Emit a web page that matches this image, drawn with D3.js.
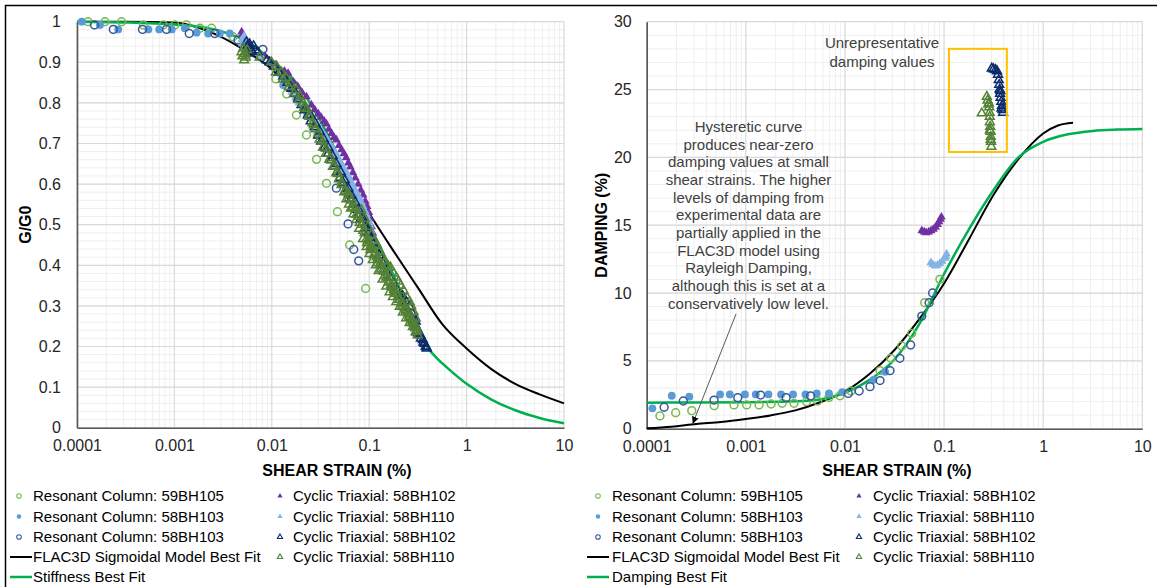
<!DOCTYPE html>
<html><head><meta charset="utf-8">
<script src="https://cdn.jsdelivr.net/npm/d3@7"></script>
<style>body{margin:0;background:#fff;} svg{font-family:"Liberation Sans",Arial,sans-serif;}</style>
</head><body><svg id="c" width="1157" height="587"></svg>
<script>
// ---------------- DATA ----------------
const xTickLabels = ["0.0001","0.001","0.01","0.1","1","10"];
const xTickValues = [1e-4,1e-3,1e-2,1e-1,1,10];
const gTickValues = [0,0.1,0.2,0.3,0.4,0.5,0.6,0.7,0.8,0.9,1];
const gTickLabels = ["0","0.1","0.2","0.3","0.4","0.5","0.6","0.7","0.8","0.9","1"];
const dTickValues = [0,5,10,15,20,25,30];
const dTickLabels = ["0","5","10","15","20","25","30"];

const legendNames = ["Resonant Column: 59BH105","Resonant Column: 58BH103","Resonant Column: 58BH103",
  "FLAC3D Sigmoidal Model Best Fit","Cyclic Triaxial: 58BH102","Cyclic Triaxial: 58BH110",
  "Cyclic Triaxial: 58BH102","Cyclic Triaxial: 58BH110"];
const leftFitName = "Stiffness Best Fit";
const rightFitName = "Damping Best Fit";

// ---- G/G0 panel ----
const flacG = [[1e-4,1.0],[3.16e-4,1.0],[1e-3,0.998],[1.78e-3,0.985],[3.16e-3,0.96],[5.62e-3,0.925],[0.01,0.883],[0.0178,0.818],[0.0316,0.735],[0.0562,0.63],[0.1,0.528],[0.178,0.435],[0.316,0.345],[0.562,0.255],[1,0.195],[1.78,0.145],[3.16,0.108],[5.62,0.082],[10,0.060]];
const fitG = [[1e-4,1.0],[3.16e-4,0.998],[1e-3,0.993],[1.78e-3,0.988],[3.16e-3,0.975],[5.62e-3,0.95],[0.01,0.905],[0.0178,0.85],[0.0316,0.755],[0.0562,0.635],[0.1,0.50],[0.133,0.44],[0.178,0.375],[0.237,0.31],[0.316,0.245],[0.40,0.197],[0.50,0.17],[0.63,0.148],[1,0.108],[1.78,0.07],[3.16,0.043],[5.62,0.024],[10,0.011]];

const rc59G = [[1.3e-4,1.0],[1.94e-4,1.0],[2.87e-4,1.0],[4.8e-4,0.992],[7.7e-4,0.992],[1.01e-3,0.992],[1.33e-3,0.992],[1.83e-3,0.984],[2.41e-3,0.984],[4.0e-3,0.963],[0.011,0.859],[0.0142,0.822],[0.0179,0.770],[0.0227,0.721],[0.0288,0.661],[0.0364,0.602],[0.0472,0.532],[0.063,0.450],[0.092,0.343]];
const rc58fG = [[1.12e-4,1.0],[1.72e-4,0.992],[2.65e-4,0.981],[5.4e-4,0.981],[6.98e-4,0.981],[9.4e-4,0.981],[1.28e-3,0.984],[1.69e-3,0.973],[2.22e-3,0.971],[2.93e-3,0.971],[3.7e-3,0.971],[0.0131,0.844]];
const rc58oG = [[1.51e-4,0.992],[2.36e-4,0.981],[4.7e-4,0.981],[8.3e-4,0.981],[1.42e-3,0.971],[2.6e-3,0.971],[4.5e-3,0.955],[8.1e-3,0.932],[0.046,0.590],[0.0607,0.502],[0.0694,0.439],[0.078,0.411]];
const ct102fG = [[0.0049,0.975],[0.0050,0.968],[0.0051,0.96],[0.0053,0.955],[0.0056,0.945],[0.0085,0.915],[0.011,0.893],[0.0135,0.878],[0.0147,0.873],[0.0165,0.852],[0.0185,0.84],[0.0205,0.825],[0.0227,0.815],[0.0255,0.795],[0.0276,0.783],[0.030,0.773],[0.032,0.765],[0.0345,0.755],[0.0364,0.748],[0.0385,0.735],[0.041,0.725],[0.0435,0.715],[0.046,0.709],[0.049,0.695],[0.052,0.685],[0.055,0.675],[0.058,0.665],[0.061,0.652],[0.064,0.642],[0.068,0.628],[0.072,0.615],[0.077,0.60],[0.082,0.585],[0.0866,0.573],[0.091,0.558],[0.095,0.545],[0.099,0.53],[0.102,0.515],[0.106,0.495],[0.109,0.479]];
const ct110fG = [[0.0049,0.955],[0.0050,0.945],[0.0051,0.935],[0.0052,0.965],[0.0053,0.925],[0.0054,0.95],[0.0055,0.915],[0.0056,0.94],[0.0058,0.93],
  [0.0078,0.915],[0.0095,0.9],[0.011,0.885],[0.0125,0.87],[0.014,0.857],[0.015,0.845],[0.016,0.838],[0.017,0.83],[0.018,0.82],[0.019,0.81],[0.020,0.80],[0.021,0.795],[0.022,0.79],[0.0235,0.78],[0.025,0.77],[0.0265,0.76],[0.028,0.752],[0.0295,0.745],[0.031,0.737],[0.033,0.728],[0.035,0.72],[0.037,0.71],[0.039,0.70],[0.041,0.692],[0.043,0.685],[0.0455,0.675],[0.048,0.665],[0.0505,0.655],[0.053,0.645],[0.0555,0.637],[0.058,0.63],[0.061,0.62],[0.064,0.61],[0.067,0.60],[0.070,0.59],[0.073,0.582],[0.076,0.575],[0.0795,0.565],[0.083,0.555],[0.0865,0.545],[0.090,0.535],[0.0935,0.525],[0.097,0.515],[0.10,0.505],[0.103,0.497],
  [0.013,0.865],[0.0145,0.845],[0.016,0.827],[0.0175,0.813],[0.019,0.80],[0.021,0.787],[0.023,0.775],[0.025,0.76],[0.027,0.745],[0.0295,0.73],[0.032,0.715],[0.0345,0.705],[0.037,0.695],[0.040,0.682],[0.043,0.67],[0.046,0.658],[0.049,0.645],[0.0525,0.632],[0.056,0.62],[0.0595,0.608],[0.063,0.595],[0.067,0.585],[0.071,0.575],[0.075,0.563],[0.079,0.55],[0.0835,0.537],[0.088,0.525],[0.092,0.515],[0.096,0.505],[0.10,0.495],[0.104,0.485],[0.108,0.475]];
const ct102oG = [[0.0055,0.95],[0.0056,0.94],[0.0057,0.93],[0.0058,0.922],[0.0059,0.945],[0.006,0.935],[0.0062,0.928],[0.0065,0.94],[0.0068,0.93],[0.0072,0.925],
  [0.0089,0.905],[0.0105,0.89],[0.0118,0.875],[0.0131,0.865],[0.0145,0.85],[0.0159,0.835],[0.0172,0.822],[0.0186,0.81],[0.0202,0.795],[0.0218,0.782],[0.0234,0.77],[0.0251,0.755],[0.0275,0.74],[0.0299,0.72],[0.0322,0.705],[0.0347,0.69],[0.0378,0.675],[0.0409,0.659],[0.0437,0.645],[0.0468,0.63],[0.050,0.616],[0.054,0.602],[0.058,0.588],[0.0617,0.575],[0.065,0.562],[0.0684,0.55],[0.073,0.537],[0.0776,0.525],[0.082,0.515],[0.0865,0.505],[0.092,0.492],[0.0977,0.48],[0.103,0.467],[0.109,0.455],[0.117,0.44],[0.126,0.425],[0.138,0.405],[0.150,0.385],[0.163,0.37],[0.178,0.355],[0.192,0.34],[0.206,0.325],[0.222,0.31],[0.24,0.295],[0.26,0.28],[0.281,0.265],[0.30,0.252],[0.316,0.24],[0.336,0.228],[0.356,0.216],[0.37,0.207],[0.386,0.198],
  [0.0095,0.90],[0.012,0.875],[0.014,0.858],[0.0165,0.835],[0.019,0.815],[0.022,0.79],[0.025,0.77],[0.028,0.75],[0.031,0.73],[0.034,0.712],[0.038,0.69],[0.042,0.67],[0.046,0.65],[0.051,0.63],[0.056,0.61],[0.061,0.59],[0.066,0.572],[0.072,0.555],[0.078,0.537],[0.085,0.518],[0.092,0.50],[0.1,0.48],
  [0.22,0.325],[0.24,0.31],[0.26,0.298],[0.28,0.28],[0.30,0.262],[0.305,0.235],[0.32,0.232],[0.34,0.22],[0.36,0.21],[0.38,0.20],[0.39,0.195]];
const ct110oG = [[0.0049,0.925],[0.0050,0.915],[0.0051,0.935],[0.0052,0.905],[0.0053,0.92],[0.0054,0.912],[0.0056,0.93],
  [0.0075,0.912],[0.0099,0.90],[0.0112,0.89],[0.0125,0.875],[0.014,0.862],[0.0155,0.848],[0.0179,0.832],[0.0195,0.815],[0.021,0.80],[0.0228,0.785],[0.0245,0.766],[0.0262,0.75],[0.028,0.735],[0.031,0.71],[0.0336,0.69],[0.036,0.675],[0.039,0.66],[0.0425,0.643],[0.046,0.627],[0.049,0.612],[0.052,0.598],[0.0555,0.58],[0.0585,0.563],[0.062,0.55],[0.065,0.54],[0.069,0.526],[0.074,0.512],[0.079,0.49],[0.0865,0.465],[0.094,0.445],[0.101,0.428],[0.109,0.413],[0.117,0.40],[0.125,0.386],[0.137,0.365],[0.150,0.348],[0.162,0.334],[0.175,0.322],[0.19,0.31],[0.206,0.298],[0.222,0.284],[0.24,0.27],[0.26,0.258],[0.281,0.248],[0.30,0.236],[0.315,0.228],
  [0.011,0.875],[0.013,0.858],[0.015,0.84],[0.017,0.823],[0.019,0.807],[0.0215,0.788],[0.024,0.768],[0.027,0.745],[0.030,0.725],[0.033,0.705],[0.036,0.687],[0.040,0.665],[0.044,0.645],[0.048,0.625],[0.052,0.605],[0.057,0.583],[0.062,0.565],[0.068,0.543],[0.074,0.525],[0.080,0.505],[0.087,0.485],[0.094,0.465],[0.10,0.455],[0.107,0.445],[0.115,0.43],[0.123,0.415],[0.132,0.40],[0.142,0.385],[0.155,0.368],[0.168,0.352],[0.183,0.337],[0.198,0.323],[0.215,0.308],[0.232,0.295],[0.25,0.282],[0.27,0.268],[0.29,0.255],[0.31,0.24],
  [0.095,0.455],[0.103,0.438],[0.112,0.425],[0.122,0.405],[0.133,0.39],[0.145,0.375],[0.158,0.358],[0.172,0.345],[0.187,0.33],[0.203,0.315],[0.22,0.3],[0.238,0.287],[0.258,0.272],[0.278,0.258],[0.298,0.245],[0.31,0.238],
  [0.06,0.58],[0.066,0.56],[0.072,0.54],[0.078,0.52],[0.084,0.50],[0.09,0.48],[0.097,0.462],[0.104,0.448],[0.11,0.44],[0.12,0.42],[0.13,0.405],[0.14,0.39],[0.15,0.37],[0.16,0.36],[0.17,0.35],[0.18,0.34],[0.19,0.33],[0.205,0.315],[0.22,0.305],[0.24,0.29],[0.26,0.275],[0.28,0.262],[0.30,0.25],
  [0.083,0.536],[0.09,0.515],[0.097,0.495],[0.105,0.475],[0.113,0.46],[0.12,0.45],[0.128,0.435],[0.137,0.42],[0.145,0.41],[0.155,0.40],[0.165,0.395],[0.178,0.38],[0.19,0.37],[0.20,0.36],[0.21,0.35],[0.225,0.338],[0.245,0.32],[0.26,0.31],[0.27,0.30],[0.285,0.285],[0.30,0.27]];

// ---- Damping panel ----
const flacD = [[1e-4,0.03],[1.78e-4,0.15],[3.16e-4,0.35],[5.62e-4,0.5],[1e-3,0.72],[1.78e-3,0.98],[3.16e-3,1.35],[5.62e-3,1.95],[0.01,2.75],[0.0178,4.05],[0.0316,5.8],[0.0562,8.07],[0.1,10.7],[0.178,13.95],[0.316,17.24],[0.562,19.87],[1,21.76],[1.41,22.35],[2.0,22.55]];
const fitD = [[1e-4,1.92],[3.16e-4,1.93],[1e-3,1.95],[3.16e-3,2.02],[5.62e-3,2.15],[0.01,2.65],[0.0178,3.6],[0.0316,5.1],[0.0562,7.7],[0.1,11.4],[0.178,14.7],[0.316,17.6],[0.562,20.0],[1,21.15],[1.78,21.7],[3.16,21.95],[5.62,22.05],[10,22.1]];

const rc59D = [[1.36e-4,0.94],[1.96e-4,1.18],[2.85e-4,1.33],[4.8e-4,1.70],[7.6e-4,1.75],[1.02e-3,1.75],[1.36e-3,1.75],[1.80e-3,1.82],[2.33e-3,1.87],[3.06e-3,1.87],[4.1e-3,1.99],[5.3e-3,2.04],[6.9e-3,2.31],[8.9e-3,2.43],[0.0115,2.78],[0.0226,4.28],[0.029,5.19],[0.0374,6.1],[0.0472,7.03],[0.0638,9.29],[0.0908,11.01]];
const rc58fD = [[1.14e-4,1.50],[1.79e-4,2.43],[2.69e-4,2.36],[5.5e-4,2.53],[6.9e-4,2.53],[9.8e-4,2.53],[1.26e-3,2.53],[1.69e-3,2.53],[2.27e-3,2.53],[3.0e-3,2.53],[4.0e-3,2.53],[5.2e-3,2.6],[6.9e-3,2.6],[9.4e-3,2.7],[0.0194,3.6],[0.0254,4.2]];
const rc58oD = [[1.50e-4,1.58],[2.34e-4,2.04],[4.78e-4,2.11],[8.3e-4,2.29],[1.41e-3,2.48],[2.55e-3,2.29],[4.5e-3,2.41],[0.0108,2.6],[0.0139,2.78],[0.0179,3.1],[0.0226,3.55],[0.0285,4.28],[0.0358,5.19],[0.046,6.17],[0.0596,8.3],[0.0707,9.29],[0.0766,10.0]];
const ct102fD = [[0.0596,14.6],[0.063,14.5],[0.066,14.45],[0.070,14.5],[0.074,14.6],[0.078,14.7],[0.082,14.85],[0.086,15.05],[0.089,15.25],[0.092,15.45],[0.094,15.6]];
const ct110fD = [[0.0735,12.24],[0.077,12.1],[0.0811,11.99],[0.086,12.05],[0.0908,12.19],[0.096,12.35],[0.102,12.56],[0.106,12.88],[0.104,12.7]];
const ct102oD = [[0.303,26.56],[0.315,26.5],[0.33,26.45],[0.343,26.35],[0.35,26.1],[0.356,25.7],[0.36,25.35],[0.363,25.0],[0.368,24.7],[0.372,24.4],[0.378,24.1],[0.384,23.8],[0.39,23.5],[0.394,23.3],[0.38,23.6],[0.37,24.9]];
const ct110oD = [[0.27,24.47],[0.275,24.2],[0.28,23.9],[0.286,23.7],[0.288,23.3],[0.289,23.0],[0.29,22.6],[0.292,22.26],[0.294,21.9],[0.296,21.52],[0.298,21.15],[0.30,20.79],[0.24,23.25],[0.283,24.0],[0.29,22.0],[0.295,21.3]];

// annotations (data coordinates)
const boxD = {x0:0.112, x1:0.43, y0:20.4, y1:28.0};
const arrowD = {x0:7.96e-4, y0:8.45, x1:2.93e-4, y1:0.42};
const note1 = ["Unrepresentative","damping values"];
const note2 = ["Hysteretic curve","produces near-zero","damping values at small","shear strains. The higher","levels of damping from","experimental data are","partially applied in the","FLAC3D model using","Rayleigh Damping,","although this is set at a","conservatively low level."];

// ---------------- STYLE ----------------
const C = {
  rc59:"#78b94f", rc58f:"#5b9bd5", rc58o:"#34589a",
  ct102f:"#7030a0", ct110f:"#84b4e4", ct102o:"#0d2a6b", ct110o:"#548235",
  flac:"#000000", fit:"#00b050"
};
const svg = d3.select("#c");
svg.append("rect").attr("x",5.5).attr("y",5.5).attr("width",1200).attr("height",600)
  .attr("fill","none").attr("stroke","#000").attr("stroke-width",1.5);

function panel(opt){
  const g = svg.append("g");
  const x = d3.scaleLog().domain([1e-4,10]).range([opt.x0,opt.x1]);
  const y = d3.scaleLinear().domain(opt.ydom).range([opt.y0,opt.y1]);
  const minorX = [];
  for(let k=-4;k<1;k++) for(let m=2;m<=9;m++) minorX.push(m*Math.pow(10,k));
  g.selectAll(".mx").data(minorX).join("line")
    .attr("x1",d=>x(d)).attr("x2",d=>x(d)).attr("y1",y(opt.ydom[0])).attr("y2",y(opt.ydom[1]))
    .attr("stroke","#efefef").attr("stroke-width",1);
  const minorY = d3.range(opt.ydom[0],opt.ydom[1]+1e-9,opt.minorStep);
  g.selectAll(".my").data(minorY).join("line")
    .attr("x1",x(1e-4)).attr("x2",x(10)).attr("y1",d=>y(d)).attr("y2",d=>y(d))
    .attr("stroke","#efefef").attr("stroke-width",1);
  g.selectAll(".Mx").data(xTickValues).join("line")
    .attr("x1",d=>x(d)).attr("x2",d=>x(d)).attr("y1",y(opt.ydom[0])).attr("y2",y(opt.ydom[1]))
    .attr("stroke","#d9d9d9").attr("stroke-width",1.2);
  g.selectAll(".My").data(opt.yticks).join("line")
    .attr("x1",x(1e-4)).attr("x2",x(10)).attr("y1",d=>y(d)).attr("y2",d=>y(d))
    .attr("stroke","#d9d9d9").attr("stroke-width",1.2);
  const ax = d3.axisBottom(x).tickValues(xTickValues).tickSize(0).tickPadding(12)
    .tickFormat((d,i)=>xTickLabels[i]);
  const axg = g.append("g").attr("transform",`translate(0,${y(opt.ydom[0])})`).call(ax);
  const ay = d3.axisLeft(y).tickValues(opt.yticks).tickSize(0).tickPadding(opt.ypad)
    .tickFormat((d,i)=>opt.ylabels[i]);
  const ayg = g.append("g").attr("transform",`translate(${x(1e-4)},0)`).call(ay);
  [axg,ayg].forEach(a=>{
    a.select(".domain").attr("stroke","#595959").attr("stroke-width",1.6);
    a.selectAll("text").attr("font-size",16).attr("fill","#262626").attr("font-family","Liberation Sans, Arial, sans-serif");
  });
  g.append("text").attr("x",opt.xtitleX).attr("y",476).attr("text-anchor","middle")
    .attr("font-size",16).attr("font-weight","bold").attr("fill","#000").text("SHEAR STRAIN (%)");
  g.append("text").attr("transform",`translate(${opt.ytitleX},${(opt.y0+opt.y1)/2}) rotate(-90)`)
    .attr("text-anchor","middle").attr("font-size",16).attr("font-weight","bold").attr("fill","#000").text(opt.ytitle);
  const line = d3.line().x(d=>x(d[0])).y(d=>y(d[1])).curve(d3.curveMonotoneX);
  g.append("path").datum(opt.flac).attr("d",line).attr("fill","none").attr("stroke",C.flac).attr("stroke-width",2);
  g.append("path").datum(opt.fit).attr("d",line).attr("fill","none").attr("stroke",C.fit).attr("stroke-width",2.5);
  const circ = d3.symbol().type(d3.symbolCircle).size(48);
  const tri = d3.symbol().type(d3.symbolTriangle).size(34);
  const series = [
    [opt.s[0],circ,"none",C.rc59],
    [opt.s[1],circ,C.rc58f,"none"],
    [opt.s[2],circ,"none",C.rc58o],
    [opt.s[3],tri,C.ct102f,"none"],
    [opt.s[4],tri,C.ct110f,"none"],
    [opt.s[5],tri,"none",C.ct102o],
    [opt.s[6],tri,"none",C.ct110o]
  ];
  series.forEach(([data,sym,fill,stroke])=>{
    g.append("g").selectAll("path").data(data).join("path")
      .attr("transform",d=>`translate(${x(d[0])},${y(d[1])})`)
      .attr("d",sym).attr("fill",fill).attr("stroke",stroke).attr("stroke-width",1.5);
  });
  return {x,y,g};
}

const L = panel({x0:77,x1:564,y0:427.7,y1:21.7,ydom:[0,1],yticks:gTickValues,ylabels:gTickLabels,
  minorStep:0.02,ypad:16,ytitle:"G/G0",ytitleX:31,xtitleX:337,flac:flacG,fit:fitG,
  s:[rc59G,rc58fG,rc58oG,ct102fG,ct110fG,ct102oG,ct110oG]});
const R = panel({x0:646.7,x1:1142.3,y0:428.7,y1:21.7,ydom:[0,30],yticks:dTickValues,ylabels:dTickLabels,
  minorStep:1,ypad:15,ytitle:"DAMPING (%)",ytitleX:607,xtitleX:897,flac:flacD,fit:fitD,
  s:[rc59D,rc58fD,rc58oD,ct102fD,ct110fD,ct102oD,ct110oD]});

R.g.append("rect").attr("x",R.x(boxD.x0)).attr("y",R.y(boxD.y1))
  .attr("width",R.x(boxD.x1)-R.x(boxD.x0)).attr("height",R.y(boxD.y0)-R.y(boxD.y1))
  .attr("fill","none").attr("stroke","#ffc000").attr("stroke-width",2);
const n1 = svg.append("text").attr("text-anchor","middle").attr("font-size",15).attr("fill","#404040");
note1.forEach((t,i)=>n1.append("tspan").attr("x",882).attr("y",48+i*19).text(t));
const n2 = svg.append("text").attr("text-anchor","middle").attr("font-size",15).attr("fill","#404040");
note2.forEach((t,i)=>n2.append("tspan").attr("x",748.5).attr("y",132+i*17.66).text(t));
svg.append("defs").append("marker").attr("id","ah").attr("viewBox","0 0 10 10").attr("refX",9).attr("refY",5)
  .attr("markerWidth",7).attr("markerHeight",7).attr("orient","auto")
  .append("path").attr("d","M0,0L10,5L0,10z").attr("fill","#000");
svg.append("line").attr("x1",R.x(arrowD.x0)).attr("y1",R.y(arrowD.y0)).attr("x2",R.x(arrowD.x1)).attr("y2",R.y(arrowD.y1))
  .attr("stroke","#595959").attr("stroke-width",1).attr("marker-end","url(#ah)");

function legend(mx,tx,mx2,tx2,lx0,lx1,fitName){
  const rows=[496,516.5,537,557,577];
  const lg = svg.append("g").attr("font-size",15).attr("fill","#000");
  const sc = d3.symbol().type(d3.symbolCircle).size(16);
  const st = d3.symbol().type(d3.symbolTriangle).size(12);
  const col1 = [[sc,"none",C.rc59],[sc,C.rc58f,"none"],[sc,"none",C.rc58o]];
  col1.forEach(([s,f,k],i)=>{
    lg.append("path").attr("transform",`translate(${mx},${rows[i]})`).attr("d",s).attr("fill",f).attr("stroke",k).attr("stroke-width",1.1);
    lg.append("text").attr("x",tx).attr("y",rows[i]).attr("dy","0.35em").text(legendNames[i]);
  });
  lg.append("line").attr("x1",lx0).attr("x2",lx1).attr("y1",rows[3]).attr("y2",rows[3]).attr("stroke",C.flac).attr("stroke-width",2);
  lg.append("text").attr("x",tx).attr("y",rows[3]).attr("dy","0.35em").text(legendNames[3]);
  lg.append("line").attr("x1",lx0).attr("x2",lx1).attr("y1",rows[4]).attr("y2",rows[4]).attr("stroke",C.fit).attr("stroke-width",2.5);
  lg.append("text").attr("x",tx).attr("y",rows[4]).attr("dy","0.35em").text(fitName);
  const col2 = [[C.ct102f,"none"],[C.ct110f,"none"],["none",C.ct102o],["none",C.ct110o]];
  col2.forEach(([f,k],i)=>{
    lg.append("path").attr("transform",`translate(${mx2},${rows[i]})`).attr("d",st).attr("fill",f).attr("stroke",k).attr("stroke-width",1.1);
    lg.append("text").attr("x",tx2).attr("y",rows[i]).attr("dy","0.35em").text(legendNames[4+i]);
  });
}
legend(19,33,280,293,10,32,leftFitName);
legend(598,612,859,873,587,609,rightFitName);
</script></body></html>
